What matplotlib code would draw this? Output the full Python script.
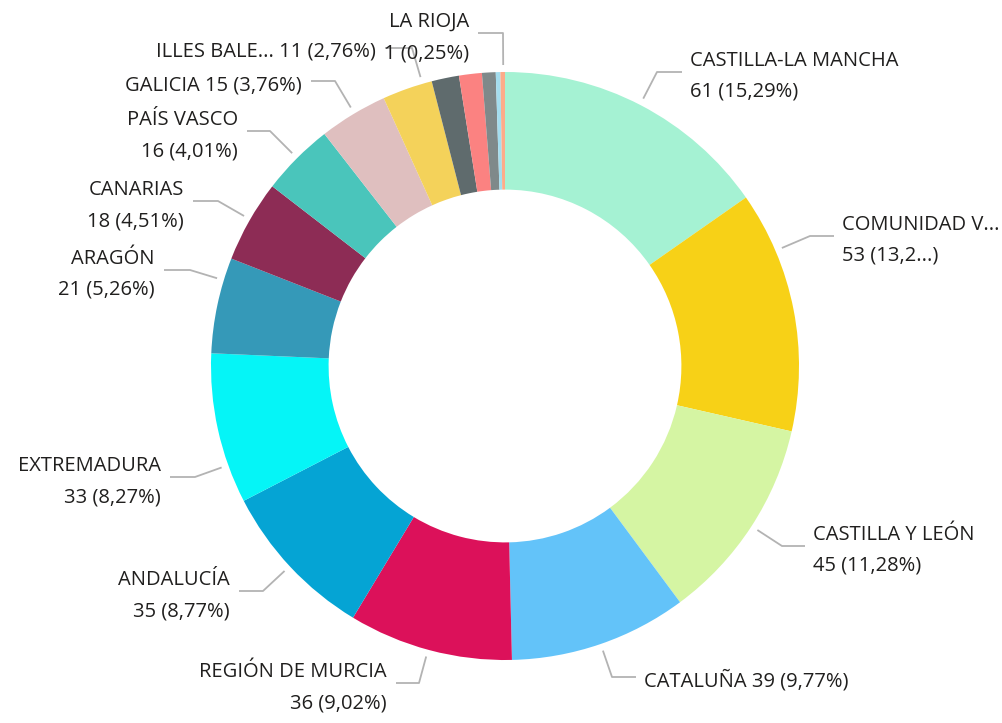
import matplotlib
matplotlib.use('Agg')
import numpy as np
import matplotlib.pyplot as plt

# slice data (clockwise from 12 o'clock)
names = ["CASTILLA-LA MANCHA", "COMUNIDAD V...", "CASTILLA Y LEÓN", "CATALUÑA",
         "REGIÓN DE MURCIA", "ANDALUCÍA", "EXTREMADURA", "ARAGÓN", "CANARIAS",
         "PAÍS VASCO", "GALICIA", "ILLES BALE...", "", "", "", "", "LA RIOJA"]
counts = [61, 53, 45, 39, 36, 35, 33, 21, 18, 16, 15, 11, 6, 5, 3, 1, 1]
colors = ['#A5F2D3', '#F7D117', '#D5F5A3', '#63C3F9', '#DC115A', '#05A4D4',
          '#05F5F7', '#3599B8', '#8D2C55', '#4AC5BB', '#DFBFBF', '#F4D25A',
          '#5F6B6D', '#FB8281', '#7F898A', '#A4DDEE', '#FDAB89']
# value text shown truncated in the original
value_override = {1: "53 (13,2...)"}

W, H = 1002, 723
cx, cy, R = 505, 366, 294

# label layout in pixel coords: index -> (side, text x, line y, elbow x, one line)
layout = {
    0: ('R', 690, 72, 657, False),
    1: ('R', 842, 236, 810, False),
    2: ('R', 813, 546, 782, False),
    3: ('R', 644, 677, 612, True),
    4: ('L', 387, 683, 419, False),
    5: ('L', 230, 591, 263, False),
    6: ('L', 161, 477, 195, False),
    7: ('L', 155, 270, 190, False),
    8: ('L', 184, 201, 218, False),
    9: ('L', 238, 131, 270, False),
    10: ('L', 302, 81, 335, True),
    11: ('L', 376, 48, 412, True),
    16: ('L', 469, 33, 503, False),
}

plt.rcParams['font.family'] = ['Open Sans', 'DejaVu Sans']
txt_kw = dict(fontsize=14.5, color='#201F1E')
line_col = '#B3B3B3'

fig = plt.figure(figsize=(W / 100, H / 100), dpi=100)
ax = fig.add_axes([0, 0, 1, 1])

def py(y):
    return H - y

ax.pie(counts, colors=colors, startangle=90, counterclock=False,
       radius=R, center=(cx, py(cy)),
       wedgeprops=dict(width=R * 0.4, linewidth=0))
ax.set_xlim(0, W)
ax.set_ylim(0, H)
ax.set_aspect('equal')
ax.axis('off')

total = float(sum(counts))
cum = np.cumsum([0] + counts[:-1])
for i, (side, tx, ly, ex, oneline) in layout.items():
    # slice angular range (math degrees, clockwise => a0 > a1)
    a0 = 90 - 360 * cum[i] / total
    a1 = 90 - 360 * (cum[i] + counts[i]) / total
    # leader points from slice edge toward the elbow, kept within the slice
    ang = np.rad2deg(np.arctan2(py(ly) - py(cy), ex - cx))
    mid = (a0 + a1) / 2
    ang = mid + ((ang - mid + 180) % 360 - 180)
    ang = min(max(ang, a1), a0)
    th = np.deg2rad(ang)
    sx = cx + (R + 7) * np.cos(th)
    sy = py(cy) + (R + 7) * np.sin(th)
    hx = tx - 8 if side == 'R' else tx + 9
    ax.plot([sx, ex, hx], [sy, py(ly), py(ly)], color=line_col, lw=1.3,
            solid_capstyle='butt')
    pct = counts[i] / total * 100
    val = value_override.get(i, "%d (%s%%)" % (counts[i], ("%.2f" % pct).replace('.', ',')))
    ha = 'left' if side == 'R' else 'right'
    if oneline:
        ax.text(tx, py(ly + 4), names[i] + " " + val, ha=ha, va='center', **txt_kw)
    else:
        ax.text(tx, py(ly - 11), names[i], ha=ha, va='center', **txt_kw)
        ax.text(tx, py(ly + 20), val, ha=ha, va='center', **txt_kw)

fig.savefig('out.png', dpi=100, facecolor='white')
